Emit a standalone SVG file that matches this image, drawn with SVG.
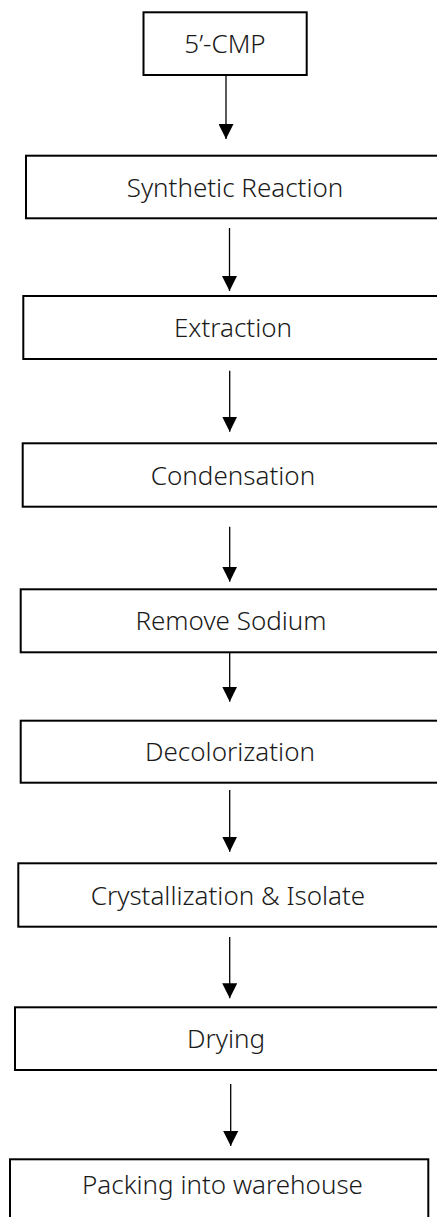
<svg xmlns="http://www.w3.org/2000/svg" width="437" height="1217" viewBox="0 0 437 1217">
<defs>
<marker id="ah" markerUnits="userSpaceOnUse" markerWidth="15" markerHeight="15" refX="15" refY="7.5" orient="auto">
<path d="M0,0 L15,7.5 L0,15 z" fill="#000"/>
</marker>
<style>
.box{fill:#fff;stroke:#000;stroke-width:2}
.lbl{font-family:"Noto Sans","Liberation Sans",sans-serif;font-size:26px;fill:#1a1a1a;text-anchor:middle;font-weight:300}
.edge{stroke:#000;stroke-width:1.3;fill:none;marker-end:url(#ah)}
</style>
</defs>
<rect width="437" height="1217" fill="#fff"/>
<g id="connectors">
<line class="edge" x1="226" y1="76" x2="226" y2="139"/>
<line class="edge" x1="229.5" y1="228" x2="229.5" y2="291"/>
<line class="edge" x1="229.7" y1="370.7" x2="229.7" y2="431.7"/>
<line class="edge" x1="229.7" y1="526.7" x2="229.7" y2="581.7"/>
<line class="edge" x1="229.7" y1="652.5" x2="229.7" y2="701.7"/>
<line class="edge" x1="229.7" y1="790" x2="229.7" y2="851.7"/>
<line class="edge" x1="229.7" y1="937" x2="229.7" y2="998.3"/>
<line class="edge" x1="230.7" y1="1084" x2="230.7" y2="1146"/>
</g>
<g id="n1"><rect class="box" x="143.5" y="12.3" width="163.2" height="62.7"/><text class="lbl" x="225" y="53.3">5’-CMP</text></g>
<g id="n2"><rect class="box" x="26" y="155.7" width="420" height="62.6"/><text class="lbl" x="235" y="196.5">Synthetic Reaction</text></g>
<g id="n3"><rect class="box" x="23.3" y="296" width="420" height="63"/><text class="lbl" x="233" y="337">Extraction</text></g>
<g id="n4"><rect class="box" x="22.7" y="443.3" width="420" height="63.4"/><text class="lbl" x="233" y="484.5">Condensation</text></g>
<g id="n5"><rect class="box" x="20.7" y="589.3" width="420" height="63"/><text class="lbl" x="231" y="630.3">Remove Sodium</text></g>
<g id="n6"><rect class="box" x="20.7" y="720.7" width="420" height="62"/><text class="lbl" x="230" y="761">Decolorization</text></g>
<g id="n7"><rect class="box" x="18.3" y="863.3" width="420" height="63.4"/><text class="lbl" x="228" y="904.5">Crystallization &amp; Isolate</text></g>
<g id="n8"><rect class="box" x="15" y="1007.3" width="425" height="62.7"/><text class="lbl" x="226" y="1048">Drying</text></g>
<g id="n9"><rect class="box" x="10" y="1159.3" width="418.3" height="70"/><text class="lbl" x="222.5" y="1194">Packing into warehouse</text></g>
</svg>
